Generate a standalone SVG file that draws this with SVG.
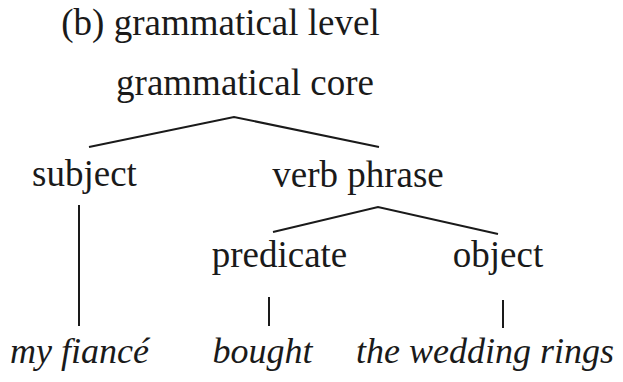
<svg xmlns="http://www.w3.org/2000/svg" width="623" height="382" viewBox="0 0 623 382">
<style>
text{font-family:"Liberation Serif","DejaVu Serif",serif;font-size:37px;fill:#1a1a1a;text-anchor:middle}
.it{font-style:italic;font-size:36px}
.edge{stroke:#1a1a1a;stroke-width:2;fill:none;stroke-linecap:butt}
</style>
<rect width="623" height="382" fill="#ffffff"/>
<text id="title" x="220.5" y="35">(b) grammatical level</text>
<g id="core"><text x="245" y="95">grammatical core</text></g>
<g id="subject"><text x="84.5" y="186">subject</text></g>
<g id="verbphrase"><text x="358" y="187">verb phrase</text></g>
<g id="predicate"><text x="279.5" y="267">predicate</text></g>
<g id="object"><text x="498" y="267">object</text></g>
<g id="myfiance"><text class="it" x="79.5" y="363">my fiancé</text></g>
<g id="bought"><text class="it" x="262.5" y="363">bought</text></g>
<g id="rings"><text class="it" x="485" y="363">the wedding rings</text></g>
<g id="connectors">
<polyline class="edge" points="89,147 234,117 379,147"/>
<polyline class="edge" points="273,232 378,207 498,234"/>
<line class="edge" x1="79" y1="205" x2="79" y2="326"/>
<line class="edge" x1="269" y1="297" x2="269" y2="326"/>
<line class="edge" x1="503" y1="300" x2="503" y2="328"/>
</g>
</svg>
